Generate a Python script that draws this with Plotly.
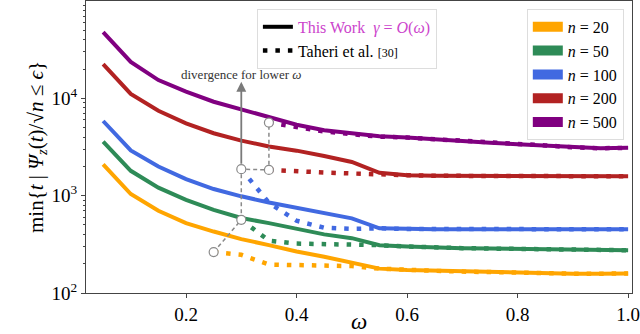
import math
import plotly.graph_objects as go

# omega grid and curve values
omega = [0.05, 0.10, 0.15, 0.20, 0.25, 0.30, 0.35, 0.40, 0.45, 0.50,
         0.55, 0.60, 0.65, 0.70, 0.75, 0.80, 0.85, 0.90, 0.95, 1.00]

n_labels = ['20', '50', '100', '200', '500']
colors = ['#FFA500', '#2E8B57', '#4169E1', '#B22222', '#800080']

# This Work (solid)
ours_20 = [2100, 1040, 700, 522, 428, 358, 310, 267, 236, 205,
           178, 172, 169, 166, 163, 161, 159, 158, 158, 159]
ours_50 = [3600, 1800, 1210, 905, 715, 590, 522, 460, 400, 366,
           310, 300, 292, 289, 286, 283, 280, 277, 275, 275]
ours_100 = [5850, 2920, 1990, 1480, 1170, 985, 850, 745, 665, 585,
            462, 455, 453, 453, 452, 452, 452, 452, 452, 451]
ours_200 = [22500, 11100, 7460, 5540, 4380, 3680, 3200, 2900, 2560, 2220,
            1720, 1625, 1600, 1596, 1594, 1592, 1590, 1588, 1585, 1582]
ours_500 = [48000, 23700, 15400, 11700, 9230, 7710, 6550, 5350, 4700, 4350,
            4080, 3950, 3820, 3670, 3500, 3370, 3280, 3140, 3070, 3100]

# Taheri et al. (dotted), None where the method diverges
taheri_20 = [None, None, None, None, 263, 247, 196, 192, 191, 189,
             178, 172, 169, 166, 163, 161, 159, 158, 158, 159]
taheri_50 = [None, None, None, None, None, 565, 345, 322, 320, 318,
             310, 300, 292, 289, 286, 283, 280, 277, 275, 275]
taheri_100 = [None, None, None, None, None, 1870, 845, 552, 468, 456,
              462, 455, 453, 453, 452, 452, 452, 452, 452, 451]
taheri_200 = [None, None, None, None, None, None, 1840, 1770, 1730, 1690,
              1640, 1625, 1600, 1596, 1594, 1592, 1590, 1588, 1585, 1582]
taheri_500 = [None, None, None, None, None, None, 5630, 5120, 4570, 4280,
              4040, 3950, 3820, 3670, 3500, 3370, 3280, 3140, 3070, 3100]

ours = [ours_20, ours_50, ours_100, ours_200, ours_500]
taheri = [taheri_20, taheri_50, taheri_100, taheri_200, taheri_500]

arrow_top = 14800
note_y = 17700

FONT = 'Liberation Serif, DejaVu Serif, serif'
GRAY = '#8a8a8a'

fig = go.Figure()

for vals, col in zip(ours, colors):
    fig.add_trace(go.Scatter(x=omega, y=vals, mode='lines',
                             line=dict(color=col, width=4),
                             showlegend=False))

for vals, col in zip(taheri, colors):
    fig.add_trace(go.Scatter(x=omega, y=vals, mode='lines',
                             line=dict(color=col, width=4.5, dash='4.5px,8px'),
                             showlegend=False))

# divergence points: first point of each Taheri curve
start_x, start_y = [], []
for vals in taheri:
    i = next(k for k, v in enumerate(vals) if v is not None)
    start_x.append(omega[i])
    start_y.append(vals[i])

fig.add_trace(go.Scatter(x=start_x, y=start_y, mode='lines+markers',
                         line=dict(color=GRAY, width=1.5, dash='4px,3px'),
                         marker=dict(size=9, color='white',
                                     line=dict(color=GRAY, width=1.2)),
                         showlegend=False))

# legend 1: method styles
fig.add_trace(go.Scatter(x=[None], y=[None], mode='lines',
                         line=dict(color='black', width=4),
                         name="<span style='color:#cc44cc'>This Work  <i>γ</i> = <i>O</i>(<i>ω</i>)</span>",
                         legend='legend'))
fig.add_trace(go.Scatter(x=[None], y=[None], mode='lines',
                         line=dict(color='black', width=4.5, dash='4.5px,8px'),
                         name="Taheri et al. <span style='font-size:12px'>[30]</span>",
                         legend='legend'))

# legend 2: problem sizes
for lab, col in zip(n_labels, colors):
    fig.add_trace(go.Scatter(x=[None], y=[None], mode='lines',
                             line=dict(color=col, width=10),
                             name=f'<i>n</i> = {lab}', legend='legend2'))

# arrow from the n=100 divergence point
fig.add_annotation(x=start_x[2], y=math.log10(arrow_top),
                   ax=start_x[2], ay=math.log10(start_y[2]),
                   xref='x', yref='y', axref='x', ayref='y',
                   text='', showarrow=True, arrowhead=2, arrowsize=1.1,
                   arrowwidth=1.8, arrowcolor='#7a7a7a', startstandoff=4)
fig.add_annotation(x=start_x[2], y=math.log10(note_y), xref='x', yref='y',
                   text='divergence for lower <i>ω</i>', showarrow=False,
                   font=dict(family=FONT, size=13, color='#333333'))

fig.update_layout(
    width=640, height=334,
    margin=dict(l=86, r=8, t=1, b=41),
    paper_bgcolor='white', plot_bgcolor='white',
    font=dict(family=FONT, size=17, color='black'),
    legend=dict(x=0.313, y=0.973, xanchor='left', yanchor='top',
                bgcolor='rgba(255,255,255,0.85)', bordercolor='#dddddd',
                borderwidth=1, font=dict(family=FONT, size=16),
                itemwidth=30, tracegroupgap=2),
    legend2=dict(x=0.985, y=0.973, xanchor='right', yanchor='top',
                 bgcolor='rgba(255,255,255,0.85)', bordercolor='#dddddd',
                 borderwidth=1, font=dict(family=FONT, size=16),
                 itemwidth=30),
)

fig.update_xaxes(range=[0.019, 1.007], tickvals=[0.2, 0.4, 0.6, 0.8, 1.0],
                 ticktext=['0.2', '0.4', '0.6', '0.8', '1.0'],
                 showgrid=False, zeroline=False, showline=True, mirror=True,
                 linecolor='#444444', linewidth=1, ticks='outside', ticklen=4,
                 tickcolor='#444444', automargin=False, ticklabeloverflow='allow',
                 tickfont=dict(family=FONT, size=19),
                 title=dict(text='<i>ω</i>', font=dict(family=FONT, size=23), standoff=2))

fig.update_yaxes(type='log', range=[2, 5], tickvals=[100, 1000, 10000],
                 ticktext=['10<sup>2</sup>', '10<sup>3</sup>', '10<sup>4</sup>'],
                 showgrid=False, zeroline=False, showline=True, mirror=True,
                 linecolor='#444444', linewidth=1, ticks='outside', ticklen=4,
                 tickcolor='#444444', automargin=False, ticklabeloverflow='allow',
                 tickfont=dict(family=FONT, size=19),
                 minor=dict(ticks='outside', ticklen=2, tickcolor='#444444',
                            tickvals=[200, 300, 400, 500, 600, 700, 800, 900,
                                      2000, 3000, 4000, 5000, 6000, 7000, 8000, 9000,
                                      20000, 30000, 40000, 50000, 60000, 70000, 80000, 90000]),
                 title=dict(text='min{<i>t</i> | <i>Ψ<sub>z</sub></i>(<i>t</i>)/√<i>n</i> ≤ <i>ϵ</i>}',
                            font=dict(family=FONT, size=21), standoff=2))

# the page's default body margin would shift the figure by 8px
fig.write_html('out.html', config={'displayModeBar': False},
               post_script="document.body.style.margin='0';")
